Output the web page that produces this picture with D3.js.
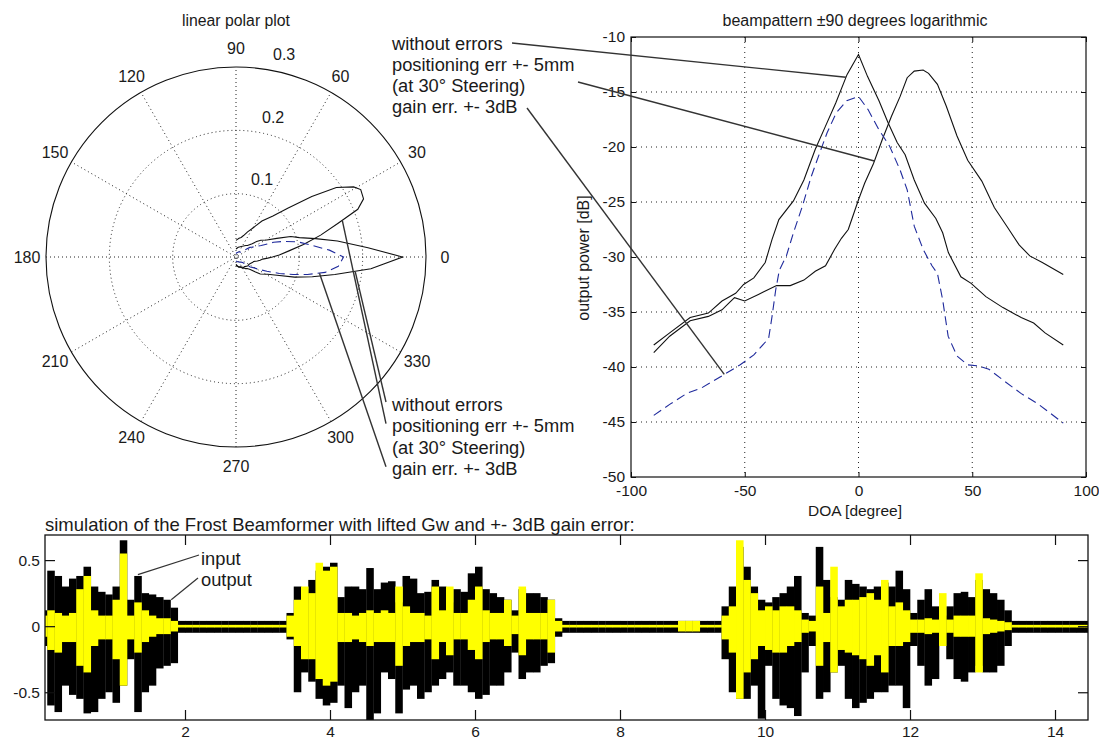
<!DOCTYPE html>
<html>
<head>
<meta charset="utf-8">
<script src="https://cdn.jsdelivr.net/npm/d3@7"></script>
<style>
  body { margin: 0; background: #fff; }
  svg text { font-family: "Liberation Sans", Arial, Helvetica, sans-serif; fill: #1a1a1a; }
</style>
</head>
<body>
<svg id="fig" width="1099" height="740"></svg>
<script>
// ---- beampattern measurements: direction of arrival (deg) and output power (dB)
const noErrDoa = [-90,-83,-74,-66,-60,-54,-50.5,-46,-41,-38,-35,-28.6,-24,-19,-14.5,-10,-5,0,4,9,13,17,20.5,24.5,29,34,37,39.5,45,49.5,56,63.5,71.5,77,82,90];
const noErrDb  = [-38.0,-36.9,-35.5,-35.1,-34.0,-33.3,-32.5,-31.9,-30.5,-28.4,-26.6,-24.9,-23.0,-20.2,-18.1,-16.0,-13.4,-11.6,-13.6,-15.8,-17.8,-19.6,-20.7,-23.0,-25.1,-26.5,-27.8,-29.6,-31.8,-32.4,-33.6,-34.6,-35.5,-36.0,-36.9,-38.0];

const posErrDoa = [-90,-83,-74,-66,-60,-57,-54.5,-50,-44,-36,-30,-24,-19,-14.5,-10.5,-7.5,-4.5,-2,0,2.7,6.6,10.5,14.5,18.3,21.4,24.5,28.4,30.8,34.7,38.6,43.3,48,54.2,59.7,65.2,70.6,75.3,80.8,90];
const posErrDb  = [-38.7,-37.2,-35.8,-35.4,-34.8,-34.2,-33.7,-34.0,-33.4,-32.6,-32.6,-32.1,-31.3,-30.8,-29.3,-28.3,-27.5,-26.0,-24.8,-23.3,-21.5,-19.3,-17.2,-15.4,-13.7,-13.1,-13.0,-13.3,-14.3,-16.3,-19.0,-21.2,-23.1,-25.5,-27.2,-28.9,-29.9,-30.5,-31.6];

const gainErrDoa = [-90,-83,-75.5,-69,-60,-52,-46,-39.5,-38,-36.4,-34.8,-31.7,-28.6,-24.7,-20.8,-17,-13.8,-9.8,-5.2,0,4.2,8.9,13.6,18.3,21.4,24.5,28.4,32.3,34.7,37,39.4,43.3,48,52.7,57.3,63.6,71.4,79.2,90];
const gainErrDb  = [-44.4,-43.4,-42.4,-41.9,-40.8,-39.8,-38.9,-37.4,-35.4,-33.0,-31.2,-29.9,-27.8,-25.4,-22.7,-20.5,-18.7,-16.9,-15.8,-15.4,-16.6,-18.4,-19.9,-22.1,-23.9,-27.2,-29.3,-30.8,-31.5,-33.9,-37.2,-39.0,-39.8,-39.9,-40.2,-41.2,-42.4,-43.4,-45.1];

const legendLines = ["without errors", "positioning err +- 5mm", "(at 30\u00b0 Steering)", "gain err. +- 3dB"];

// ---- axis ticks
const doaTicks = [-100, -50, 0, 50, 100];
const dbTicks = [-50, -45, -40, -35, -30, -25, -20, -15, -10];
const polarAngles = [0, 30, 60, 90, 120, 150, 180, 210, 240, 270, 300, 330];
const polarRings = [0.1, 0.2, 0.3];
const timeTicks = [2, 4, 6, 8, 10, 12, 14];
const ampTicks = [-0.5, 0, 0.5];

// ---- beamformer simulation: signal envelope per 0.1 s block (max / min)
const blockSec = 0.1;
const inputHi = [0.12,0.42,0.38,0.30,0.36,0.38,0.45,0.30,0.26,0.24,
  0.30,0.65,0.20,0.38,0.25,0.24,0.22,0.20,0.14,0.04,
  0.04,0.04,0.04,0.04,0.04,0.04,0.04,0.04,0.04,0.04,
  0.04,0.04,0.04,0.04,0.10,0.30,0.28,0.35,0.42,0.45,
  0.48,0.22,0.30,0.30,0.28,0.44,0.28,0.33,0.34,0.18,
  0.38,0.36,0.25,0.26,0.35,0.30,0.18,0.28,0.26,0.40,
  0.45,0.28,0.25,0.22,0.20,0.12,0.28,0.25,0.25,0.22,
  0.20,0.06,0.04,0.04,0.04,0.04,0.04,0.04,0.04,0.04,
  0.04,0.04,0.04,0.04,0.04,0.04,0.04,0.04,0.04,0.04,
  0.04,0.04,0.04,0.04,0.15,0.30,0.60,0.45,0.30,0.20,
  0.18,0.22,0.25,0.30,0.38,0.10,0.08,0.60,0.35,0.22,
  0.20,0.35,0.32,0.30,0.28,0.30,0.33,0.30,0.42,0.28,
  0.10,0.20,0.28,0.15,0.08,0.15,0.25,0.26,0.22,0.35,
  0.28,0.25,0.20,0.12,0.04,0.04,0.04,0.04,0.04,0.04,
  0.04,0.04,0.04,0.04,0.04];
const inputLo = [-0.15,-0.60,-0.65,-0.45,-0.52,-0.55,-0.66,-0.65,-0.55,-0.50,
  -0.58,-0.45,-0.25,-0.65,-0.50,-0.45,-0.32,-0.30,-0.28,-0.05,
  -0.05,-0.05,-0.05,-0.05,-0.05,-0.05,-0.05,-0.05,-0.05,-0.05,
  -0.05,-0.05,-0.05,-0.05,-0.10,-0.50,-0.35,-0.42,-0.55,-0.60,
  -0.58,-0.45,-0.62,-0.50,-0.45,-0.72,-0.66,-0.35,-0.40,-0.66,
  -0.48,-0.45,-0.55,-0.50,-0.45,-0.40,-0.35,-0.45,-0.45,-0.50,
  -0.55,-0.52,-0.45,-0.45,-0.35,-0.20,-0.40,-0.35,-0.35,-0.30,
  -0.28,-0.08,-0.05,-0.05,-0.05,-0.05,-0.05,-0.05,-0.05,-0.05,
  -0.05,-0.05,-0.05,-0.05,-0.05,-0.05,-0.05,-0.05,-0.05,-0.05,
  -0.05,-0.05,-0.05,-0.05,-0.25,-0.50,-0.55,-0.55,-0.45,-0.70,
  -0.30,-0.55,-0.60,-0.62,-0.68,-0.35,-0.15,-0.55,-0.50,-0.35,
  -0.30,-0.55,-0.62,-0.58,-0.55,-0.50,-0.50,-0.45,-0.45,-0.62,
  -0.15,-0.30,-0.45,-0.40,-0.15,-0.25,-0.40,-0.42,-0.35,-0.30,
  -0.35,-0.35,-0.30,-0.15,-0.05,-0.05,-0.05,-0.05,-0.05,-0.05,
  -0.05,-0.05,-0.05,-0.05,-0.05];
const outputHi = [0.08,0.12,0.10,0.08,0.10,0.28,0.38,0.12,0.08,0.08,
  0.20,0.55,0.08,0.18,0.12,0.08,0.06,0.06,0.04,0.01,
  0.01,0.01,0.01,0.01,0.01,0.01,0.01,0.01,0.01,0.01,
  0.01,0.01,0.01,0.01,0.08,0.20,0.30,0.25,0.48,0.42,
  0.45,0.10,0.10,0.08,0.10,0.12,0.10,0.12,0.10,0.30,
  0.15,0.10,0.10,0.08,0.30,0.12,0.30,0.10,0.10,0.20,
  0.30,0.12,0.10,0.10,0.20,0.08,0.30,0.10,0.10,0.10,
  0.20,0.04,0.01,0.01,0.01,0.01,0.01,0.01,0.01,0.01,
  0.01,0.01,0.01,0.01,0.01,0.01,0.01,0.01,0.04,0.04,
  0.04,0.01,0.01,0.01,0.08,0.15,0.65,0.35,0.25,0.12,
  0.15,0.12,0.15,0.15,0.12,0.05,0.04,0.30,0.10,0.45,
  0.15,0.20,0.20,0.22,0.25,0.20,0.35,0.15,0.18,0.12,
  0.05,0.05,0.06,0.05,0.25,0.05,0.08,0.08,0.08,0.40,
  0.06,0.05,0.04,0.03,0.01,0.01,0.01,0.01,0.01,0.01,
  0.01,0.01,0.01,0.01,0.01];
const outputLo = [-0.08,-0.18,-0.20,-0.12,-0.12,-0.30,-0.35,-0.15,-0.10,-0.10,
  -0.25,-0.45,-0.10,-0.20,-0.12,-0.08,-0.06,-0.06,-0.04,-0.01,
  -0.01,-0.01,-0.01,-0.01,-0.01,-0.01,-0.01,-0.01,-0.01,-0.01,
  -0.01,-0.01,-0.01,-0.01,-0.08,-0.15,-0.25,-0.25,-0.40,-0.45,
  -0.42,-0.12,-0.12,-0.10,-0.12,-0.15,-0.12,-0.12,-0.12,-0.30,
  -0.15,-0.12,-0.12,-0.10,-0.25,-0.12,-0.22,-0.10,-0.10,-0.18,
  -0.25,-0.12,-0.10,-0.10,-0.15,-0.06,-0.22,-0.10,-0.10,-0.10,
  -0.20,-0.04,-0.01,-0.01,-0.01,-0.01,-0.01,-0.01,-0.01,-0.01,
  -0.01,-0.01,-0.01,-0.01,-0.01,-0.01,-0.01,-0.01,-0.04,-0.04,
  -0.04,-0.01,-0.01,-0.01,-0.10,-0.20,-0.55,-0.35,-0.25,-0.15,
  -0.18,-0.20,-0.20,-0.15,-0.12,-0.05,-0.04,-0.30,-0.12,-0.35,
  -0.18,-0.20,-0.22,-0.25,-0.30,-0.22,-0.35,-0.15,-0.15,-0.12,
  -0.05,-0.05,-0.06,-0.05,-0.15,-0.05,-0.08,-0.08,-0.08,-0.35,
  -0.06,-0.05,-0.04,-0.03,-0.01,-0.01,-0.01,-0.01,-0.01,-0.01,
  -0.01,-0.01,-0.01,-0.01,-0.01];

// ------------------------------------------------------------------
const svg = d3.select("#fig");
const FONT_TICK = 15.5;
const FONT_NOTE = 18.3;

const series = [
  { key: "noErr",   doa: noErrDoa,   db: noErrDb,   color: "#111", dash: null },
  { key: "posErr",  doa: posErrDoa,  db: posErrDb,  color: "#111", dash: null },
  { key: "gainErr", doa: gainErrDoa, db: gainErrDb, color: "#1f2a9c", dash: "9,5" }
];
series.forEach(s => { s.pts = s.doa.map((d, i) => ({ doa: d, db: s.db[i] })); });

// dB value of a series at an arbitrary DOA (linear interpolation between samples)
function dbAt(s, doa) {
  const i = Math.max(1, Math.min(s.doa.length - 1, d3.bisectLeft(s.doa, doa)));
  const t = (doa - s.doa[i - 1]) / (s.doa[i] - s.doa[i - 1]);
  return s.db[i - 1] + t * (s.db[i] - s.db[i - 1]);
}
const amp = db => Math.pow(10, db / 20);

// =================== polar plot (linear amplitude) ===================
const pc = { x: 236, y: 257, R: 190 };
const rP = d3.scaleLinear().domain([0, 0.3]).range([0, pc.R]);
const gP = svg.append("g").attr("transform", `translate(${pc.x},${pc.y})`);

gP.append("circle").attr("r", rP(0.3)).attr("fill", "#fff").attr("stroke", "none");
polarRings.filter(r => r < 0.3).forEach(r => {
  gP.append("circle").attr("r", rP(r)).attr("fill", "none")
    .attr("stroke", "#222").attr("stroke-width", 1).attr("stroke-dasharray", "1,3");
});
polarAngles.filter(a => a < 180).forEach(a => {
  const rad = a * Math.PI / 180;
  gP.append("line")
    .attr("x1", -rP(0.3) * Math.cos(rad)).attr("y1", rP(0.3) * Math.sin(rad))
    .attr("x2", rP(0.3) * Math.cos(rad)).attr("y2", -rP(0.3) * Math.sin(rad))
    .attr("stroke", "#222").attr("stroke-width", 1).attr("stroke-dasharray", "1,3");
});
gP.append("circle").attr("r", rP(0.3)).attr("fill", "none").attr("stroke", "#111").attr("stroke-width", 1.1);

gP.selectAll("text.ang").data(polarAngles).join("text").attr("class", "ang")
  .attr("x", a => rP(0.3) * 1.1 * Math.cos(a * Math.PI / 180))
  .attr("y", a => -rP(0.3) * 1.1 * Math.sin(a * Math.PI / 180))
  .attr("text-anchor", "middle").attr("dominant-baseline", "central")
  .attr("font-size", 16).text(a => a);

gP.selectAll("text.ring").data(polarRings).join("text").attr("class", "ring")
  .attr("x", r => rP(r) * Math.cos(80 * Math.PI / 180) + 4)
  .attr("y", r => -rP(r) * Math.sin(80 * Math.PI / 180) - 15)
  .attr("dominant-baseline", "central")
  .attr("font-size", 16).text(r => r);

const radial = d3.lineRadial()
  .angle(d => (90 - d.doa) * Math.PI / 180)
  .radius(d => rP(amp(d.db)));

series.forEach(s => {
  gP.append("path").attr("d", radial(s.pts)).attr("fill", "none")
    .attr("stroke", s.color).attr("stroke-width", 1.1)
    .attr("stroke-dasharray", s.dash);
});

svg.append("text").attr("x", pc.x).attr("y", 20).attr("text-anchor", "middle")
  .attr("dominant-baseline", "central").attr("font-size", 15.8).text("linear polar plot");

// =================== beampattern (logarithmic) ===================
const rb = { x0: 631, x1: 1086, y0: 37, y1: 477 };
const xR = d3.scaleLinear().domain([-100, 100]).range([rb.x0, rb.x1]);
const yR = d3.scaleLinear().domain([-50, -10]).range([rb.y1, rb.y0]);
const gR = svg.append("g");

gR.append("rect").attr("x", rb.x0).attr("y", rb.y0).attr("width", rb.x1 - rb.x0)
  .attr("height", rb.y1 - rb.y0).attr("fill", "#fff");

// dotted grid
gR.selectAll("line.gx").data(doaTicks.slice(1, -1)).join("line").attr("class", "gx")
  .attr("x1", d => xR(d)).attr("x2", d => xR(d)).attr("y1", rb.y0).attr("y2", rb.y1)
  .attr("stroke", "#222").attr("stroke-dasharray", "1,4");
gR.selectAll("line.gy").data(dbTicks.slice(1, -1)).join("line").attr("class", "gy")
  .attr("y1", d => yR(d)).attr("y2", d => yR(d)).attr("x1", rb.x0).attr("x2", rb.x1)
  .attr("stroke", "#222").attr("stroke-dasharray", "1,4");

const lineR = d3.line().x(d => xR(d.doa)).y(d => yR(d.db));
series.forEach(s => {
  gR.append("path").attr("d", lineR(s.pts)).attr("fill", "none")
    .attr("stroke", s.color).attr("stroke-width", 1.1)
    .attr("stroke-dasharray", s.dash);
});

gR.append("g").attr("transform", `translate(0,${rb.y1})`)
  .call(d3.axisBottom(xR).tickValues(doaTicks).tickSize(-5).tickPadding(8).tickFormat(d => String(d)));
gR.append("g").attr("transform", `translate(${rb.x0},0)`)
  .call(d3.axisLeft(yR).tickValues(dbTicks).tickSize(-5).tickPadding(6).tickFormat(d => String(d)));
gR.append("g").attr("transform", `translate(0,${rb.y0})`)
  .call(d3.axisTop(xR).tickValues(doaTicks).tickSize(-5).tickFormat(""));
gR.append("g").attr("transform", `translate(${rb.x1},0)`)
  .call(d3.axisRight(yR).tickValues(dbTicks).tickSize(-5).tickFormat(""));
gR.selectAll(".domain").remove();
gR.selectAll(".tick line").attr("stroke", "#111");
gR.selectAll(".tick text").attr("font-size", FONT_TICK).attr("fill", "#1a1a1a")
  .style("font-family", "'Liberation Sans', Arial, sans-serif");

gR.append("rect").attr("x", rb.x0).attr("y", rb.y0).attr("width", rb.x1 - rb.x0)
  .attr("height", rb.y1 - rb.y0).attr("fill", "none").attr("stroke", "#111").attr("stroke-width", 1.2);

svg.append("text").attr("x", 855).attr("y", 20).attr("text-anchor", "middle")
  .attr("dominant-baseline", "central").attr("font-size", 16).text("beampattern \u00b190 degrees logarithmic");
svg.append("text").attr("x", 855).attr("y", 510).attr("text-anchor", "middle")
  .attr("dominant-baseline", "central").attr("font-size", 15.5).text("DOA [degree]");
svg.append("text").attr("transform", "translate(583,258) rotate(-90)").attr("text-anchor", "middle")
  .attr("dominant-baseline", "central").attr("font-size", 16).text("output power  [dB]");

// =================== annotations ===================
const noteTop = { x: 392, y: 43, step: 21.3 };
const noteBot = { x: 392, y: 404, step: 21.6 };
[noteTop, noteBot].forEach(n => {
  svg.append("g").selectAll("text").data(legendLines).join("text")
    .attr("x", n.x).attr("y", (d, i) => n.y + i * n.step)
    .attr("dominant-baseline", "central").attr("font-size", FONT_NOTE)
    .attr("fill", "#222").text(d => d);
});

const leader = (x1, y1, x2, y2) => svg.append("line")
  .attr("x1", x1).attr("y1", y1).attr("x2", x2).attr("y2", y2)
  .attr("stroke", "#333").attr("stroke-width", 1.4);

// pointers into the logarithmic beampattern
const [sNo, sPos, sGain] = series;
leader(512, 43, xR(-5.5), yR(dbAt(sNo, -5.5)));
leader(578, 82, xR(7), yR(dbAt(sPos, 7)));
leader(527, 108, xR(-59), yR(dbAt(sGain, -59)));

// pointers into the polar plot
const polarPt = (s, doa) => {
  const r = rP(amp(dbAt(s, doa))), a = doa * Math.PI / 180;
  return [pc.x + r * Math.cos(a), pc.y - r * Math.sin(a)];
};
[[sNo, -7, 0], [sPos, 19, 1], [sGain, -11, 3]].forEach(([s, doa, line]) => {
  const [px, py] = polarPt(s, doa);
  leader(386, noteBot.y + line * noteBot.step - 2, px, py);
});

// =================== time signal ===================
const bb = { x0: 45, x1: 1088, y0: 535, y1: 720 };
const xB = d3.scaleLinear().domain([0.069, 14.455]).range([bb.x0, bb.x1]);
const yB = d3.scaleLinear().domain([-0.71, 0.69]).range([bb.y1, bb.y0]);
const gB = svg.append("g");

svg.append("defs").append("clipPath").attr("id", "clipB").append("rect")
  .attr("x", bb.x0).attr("y", bb.y0).attr("width", bb.x1 - bb.x0).attr("height", bb.y1 - bb.y0);

const blocks = inputHi.map((h, i) => ({
  t0: i * blockSec, t1: (i + 1) * blockSec,
  inHi: h, inLo: inputLo[i], outHi: outputHi[i], outLo: outputLo[i]
}));
const gW = gB.append("g").attr("clip-path", "url(#clipB)");
gW.selectAll("rect.in").data(blocks).join("rect").attr("class", "in")
  .attr("x", d => xB(d.t0)).attr("width", d => xB(d.t1) - xB(d.t0) + 0.3)
  .attr("y", d => yB(d.inHi)).attr("height", d => yB(d.inLo) - yB(d.inHi))
  .attr("fill", "#000");
gW.selectAll("rect.out").data(blocks).join("rect").attr("class", "out")
  .attr("x", d => xB(d.t0)).attr("width", d => xB(d.t1) - xB(d.t0) + 0.3)
  .attr("y", d => yB(d.outHi)).attr("height", d => yB(d.outLo) - yB(d.outHi))
  .attr("fill", "#ffff00");

gB.append("g").attr("transform", `translate(0,${bb.y1})`)
  .call(d3.axisBottom(xB).tickValues(timeTicks).tickSize(-10).tickPadding(6).tickFormat(d => String(d)));
gB.append("g").attr("transform", `translate(0,${bb.y0})`)
  .call(d3.axisTop(xB).tickValues(timeTicks).tickSize(-10).tickFormat(""));
gB.append("g").attr("transform", `translate(${bb.x0},0)`)
  .call(d3.axisLeft(yB).tickValues(ampTicks).tickSize(-10).tickPadding(5).tickFormat(d => String(d)));
gB.append("g").attr("transform", `translate(${bb.x1},0)`)
  .call(d3.axisRight(yB).tickValues(ampTicks).tickSize(-10).tickFormat(""));
gB.selectAll(".domain").remove();
gB.selectAll(".tick line").attr("stroke", "#111").attr("stroke-width", 1.2);
gB.selectAll(".tick text").attr("font-size", FONT_TICK).attr("fill", "#1a1a1a")
  .style("font-family", "'Liberation Sans', Arial, sans-serif");
gB.append("rect").attr("x", bb.x0).attr("y", bb.y0).attr("width", bb.x1 - bb.x0)
  .attr("height", bb.y1 - bb.y0).attr("fill", "none").attr("stroke", "#111").attr("stroke-width", 1.3);

svg.append("text").attr("x", 45).attr("y", 524).attr("dominant-baseline", "central")
  .attr("font-size", 18.5).text("simulation of the Frost Beamformer with lifted Gw and +- 3dB gain error:");

// labels for the two traces
svg.append("text").attr("x", 201).attr("y", 558).attr("dominant-baseline", "central")
  .attr("font-size", 18.3).text("input");
svg.append("text").attr("x", 201).attr("y", 579).attr("dominant-baseline", "central")
  .attr("font-size", 18.3).text("output");
leader(199, 555, xB(1.35), yB(0.39)).attr("stroke-width", 1.2);
leader(198, 578, xB(1.81), yB(0.2)).attr("stroke-width", 1.2);
</script>
</body>
</html>
